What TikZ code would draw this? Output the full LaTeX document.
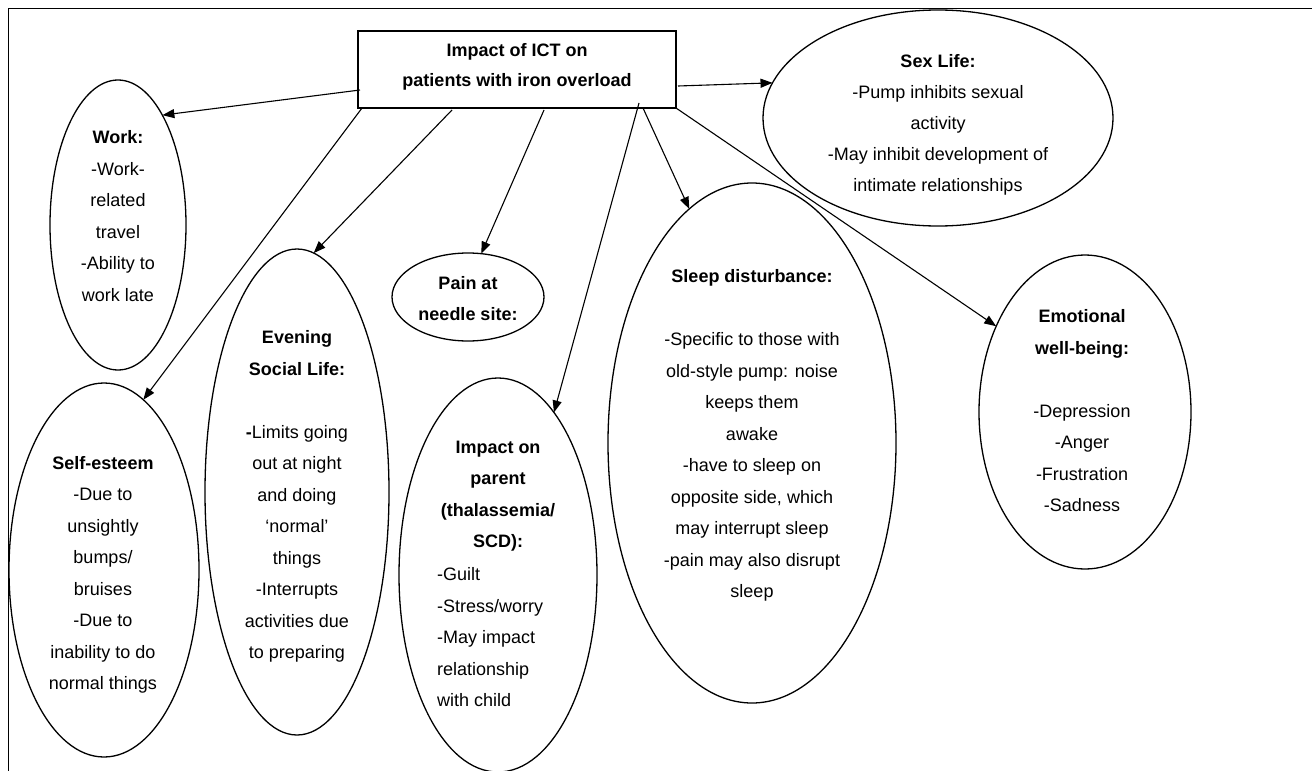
\documentclass[tikz,border=0pt]{standalone}
\usepackage{fontspec}
\setmainfont{Liberation Sans}
\usetikzlibrary{shapes.geometric,arrows.meta,calc}
\begin{document}
\begin{tikzpicture}[x=1pt,y=-1pt,
  oval/.style={draw, ellipse, line width=1.3pt, inner sep=0pt, outer sep=0pt},
  txt/.style={align=center, inner sep=0pt, anchor=north, font=\fontsize{18}{31.5}\selectfont, execute at begin node=\strut},
  txtl/.style={txt, align=left, anchor=north west},
  arr/.style={-{Triangle[length=12pt,width=9pt]}, line width=1.1pt}]
\useasboundingbox (0,0) rectangle (1312,771);
\draw[line width=1pt] (1312,8) -- (8,8) -- (8,771);
% central box
\node[draw, line width=1.3pt, minimum width=318pt, minimum height=77pt, inner sep=0pt, outer sep=0pt] (box) at (517,69.5) {};
\node[txt, font=\bfseries\fontsize{18}{30}\selectfont] (boxT) at (517,43) {Impact of ICT on\\patients with iron overload};
% ellipses
\node[oval, minimum width=136pt, minimum height=290pt] (work) at (118,225) {};
\node[oval, minimum width=190pt, minimum height=374pt] (self) at (104,570) {};
\node[oval, minimum width=184pt, minimum height=486pt] (even) at (297,492) {};
\node[oval, minimum width=152pt, minimum height=88pt] (pain) at (468,297) {};
\node[oval, minimum width=198pt, minimum height=394pt] (parent) at (498,575) {};
\node[oval, minimum width=288pt, minimum height=520pt] (sleep) at (752,443) {};
\node[oval, minimum width=212pt, minimum height=314pt] (emot) at (1085,412) {};
\node[oval, minimum width=350pt, minimum height=216pt] (sex) at (938,118) {};
% texts
\node[txt] (workT) at (118,130.5) {\textbf{Work:}\\-Work-\\related\\travel\\-Ability to\\work late};
\node[txt] (selfT) at (103,456) {\textbf{Self-esteem}\\-Due to\\unsightly\\bumps/\\bruises\\-Due to\\inability to do\\normal things};
\node[txt] (evenT) at (297,330.5) {\textbf{Evening}\\\textbf{Social Life:}\\\strut\\\textbf{-}Limits going\\out at night\\and doing\\‘normal’\\things\\-Interrupts\\activities due\\to preparing};
\node[txt, font=\bfseries\fontsize{18}{31}\selectfont] (painT) at (468,276) {Pain at\\needle site:};
\node[txt, font=\bfseries\fontsize{18}{31.5}\selectfont] (parentT) at (498,440.5) {Impact on\\parent\\(thalassemia/\\SCD):};
\node[txtl] (parentB) at (437,567.5) {-Guilt\\-Stress/worry\\-May impact\\relationship\\with child};
\node[txt] (sleepT) at (752,269.5) {\textbf{Sleep disturbance:}\\\strut\\-Specific to those with\\old-style pump: noise\\keeps them\\awake\\-have to sleep on\\opposite side, which\\may interrupt sleep\\-pain may also disrupt\\sleep};
\node[txt] (emotT) at (1082,309.5) {\textbf{Emotional}\\\textbf{well-being:}\\\strut\\-Depression\\-Anger\\-Frustration\\-Sadness};
\node[txt, font=\fontsize{18}{31}\selectfont] (sexT) at (938,53.8) {\textbf{Sex Life:}\\-Pump inhibits sexual\\activity\\-May inhibit development of\\intimate relationships};
% connectors
\draw[arr] ($(box.north west)+(2,59)$) -- (work.68);
\draw[arr] ($(box.south west)+(4,0)$) -- (self.77);
\draw[arr] ($(box.south west)+(94,2)$) -- (even.86);
\draw[arr] ($(box.south west)+(186,2)$) -- (pain.73);
\draw[arr] ($(box.south west)+(281,-5)$) -- (parent.71);
\draw[arr] ($(box.south west)+(285,0)$) -- (sleep.105);
\draw[arr] (box.south east) -- (emot.136);
\draw[arr] ($(box.north east)+(2,55)$) -- (sex.168);
\end{tikzpicture}
\end{document}
